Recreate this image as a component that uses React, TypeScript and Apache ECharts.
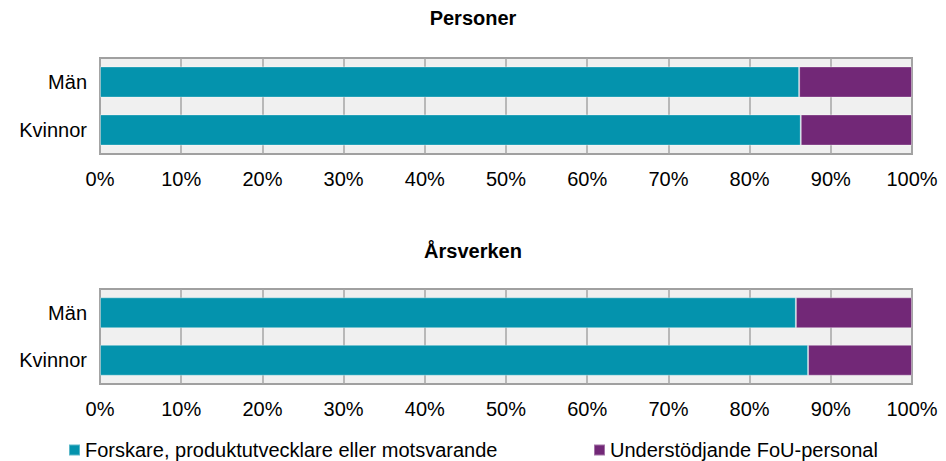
import React, { useEffect, useRef } from "react";
import * as echarts from "echarts";

const categories = ["Män", "Kvinnor"];
const seriesNames = ["Forskare, produktutvecklare eller motsvarande", "Understödjande FoU-personal"];
const personerForskare = [86.1, 86.3];
const personerStod = [13.9, 13.7];
const arsverkenForskare = [85.7, 87.2];
const arsverkenStod = [14.3, 12.8];
const panelTitles = ["Personer", "Årsverken"];

const TEAL = "#0493ad";
const PURPLE = "#722877";
const FONT = "'Liberation Sans', Arial, sans-serif";

export default function App() {
  const ref = useRef<HTMLDivElement>(null);
  useEffect(() => {
    if (!ref.current) return;
    const chart = echarts.init(ref.current, null, { renderer: "svg" });
    const xAxisBase = (gridIndex: number) => ({
      type: "value" as const,
      gridIndex,
      min: 0,
      max: 100,
      interval: 10,
      axisLine: { show: false },
      axisTick: { show: false },
      axisLabel: { formatter: "{value}%", fontSize: 20, color: "#000", margin: 15, fontFamily: FONT },
      splitLine: { show: true, lineStyle: { color: "#a6a6a6", width: 1.5 } },
    });
    const yAxisBase = (gridIndex: number) => ({
      type: "category" as const,
      gridIndex,
      data: categories,
      inverse: true,
      axisLine: { show: false },
      axisTick: { show: false },
      axisLabel: { fontSize: 20, color: "#000", margin: 13, fontFamily: FONT },
    });
    const barBase = {
      type: "bar" as const,
      barWidth: "65%",
      itemStyle: { borderColor: "rgba(255,255,255,0.35)", borderWidth: 1 },
    };
    const titleStyle = { fontSize: 20, fontWeight: "bold" as const, color: "#000", fontFamily: FONT };
    const legendBase = {
      top: 440,
      padding: 0,
      itemWidth: 11,
      itemHeight: 11,
      itemGap: 5,
      icon: "rect",
      textStyle: { fontSize: 20, color: "#000", fontFamily: FONT },
    };
    chart.setOption({
      animation: false,
      textStyle: { fontFamily: FONT },
      title: [
        { text: panelTitles[0], left: "center", top: 8, padding: 0, textStyle: titleStyle },
        { text: panelTitles[1], left: "center", top: 241, padding: 0, textStyle: titleStyle },
      ],
      legend: [
        { ...legendBase, left: 68, data: [seriesNames[0]] },
        { ...legendBase, left: 593, data: [seriesNames[1]] },
      ],
      grid: [
        { left: 100, right: 34, top: 58, height: 96, show: true, backgroundColor: "#f0f0f0", borderColor: "#a0a0a0", borderWidth: 2 },
        { left: 100, right: 34, top: 289, height: 95, show: true, backgroundColor: "#f0f0f0", borderColor: "#a0a0a0", borderWidth: 2 },
      ],
      xAxis: [xAxisBase(0), xAxisBase(1)],
      yAxis: [yAxisBase(0), yAxisBase(1)],
      series: [
        { ...barBase, name: seriesNames[0], stack: "p", xAxisIndex: 0, yAxisIndex: 0, data: personerForskare, itemStyle: { ...barBase.itemStyle, color: TEAL } },
        { ...barBase, name: seriesNames[1], stack: "p", xAxisIndex: 0, yAxisIndex: 0, data: personerStod, itemStyle: { ...barBase.itemStyle, color: PURPLE } },
        { ...barBase, name: seriesNames[0], stack: "a", xAxisIndex: 1, yAxisIndex: 1, data: arsverkenForskare, itemStyle: { ...barBase.itemStyle, color: TEAL } },
        { ...barBase, name: seriesNames[1], stack: "a", xAxisIndex: 1, yAxisIndex: 1, data: arsverkenStod, itemStyle: { ...barBase.itemStyle, color: PURPLE } },
      ],
    });
    return () => chart.dispose();
  }, []);
  return <div ref={ref} style={{ width: 946, height: 461, position: "absolute", left: 0, top: 0 }} />;
}
